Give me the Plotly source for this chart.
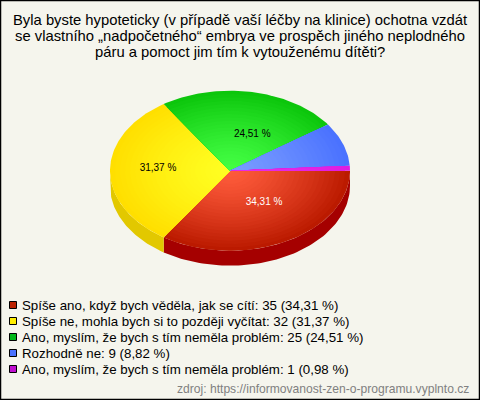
import numpy as np
import plotly.graph_objects as go

title_lines = ["Byla byste hypoteticky (v případě vaší léčby na klinice) ochotna vzdát",
               "se vlastního „nadpočetného“ embrya ve prospěch jiného neplodného",
               "páru a pomoct jim tím k vytouženému dítěti?"]
categories = ["Spíše ano, když bych věděla, jak se cítí",
              "Spíše ne, mohla bych si to později vyčítat",
              "Ano, myslím, že bych s tím neměla problém",
              "Rozhodně ne",
              "Ano, myslím, že bych s tím neměla problém"]
counts = [35, 32, 25, 9, 1]
edge_colors = ["#bb1a00", "#ffdf00", "#0cc60c", "#4a72ff", "#e01ce0"]
center_colors = ["#ff5c3c", "#ffff22", "#44ff44", "#7a9cff", "#e830e8"]
side_colors = ["#a50000", "#e2c800", "#0a9a0a", "#3a58c8", "#a000a0"]
swatch_colors = ["#bb2200", "#ffee00", "#00b818", "#4a72ff", "#c010d0"]
source = "zdroj: https://informovanost-zen-o-programu.vyplnto.cz"

BG = "#f5f5ed"
CX, CY, RX, RY, DEPTH = 230, 170.7, 120, 80, 15
LAYERS = 24
FONT = "Liberation Sans, Arial, sans-serif"


def hex2rgb(h):
    return np.array([int(h[i:i + 2], 16) for i in (1, 3, 5)], float)


def lerp(a, b, t):
    c = hex2rgb(a) * (1 - t) + hex2rgb(b) * t
    return "rgb(%d,%d,%d)" % tuple(c.round())


total = sum(counts)
shares = [c / total for c in counts]
bounds = np.concatenate([[0], np.cumsum(shares)]) * 2 * np.pi

fig = go.Figure()

# side wall, front half only
for i in range(len(counts)):
    a0, a1 = bounds[i], min(bounds[i + 1], np.pi)
    if a0 >= np.pi:
        continue
    t = np.linspace(a0, a1, 80)
    x = CX + RX * np.cos(t)
    y = CY + RY * np.sin(t)
    fig.add_trace(go.Scatter(
        x=np.concatenate([x, x[::-1]]),
        y=np.concatenate([y, y[::-1] + DEPTH]),
        fill="toself", fillcolor=side_colors[i], mode="lines",
        line=dict(width=0), hoverinfo="skip", showlegend=False))

# top face with radial shading
for i in range(len(counts)):
    t = np.linspace(bounds[i], bounds[i + 1], max(6, int(300 * shares[i])))
    for k in range(LAYERS):
        s = 1 - k / LAYERS
        x = np.concatenate([[CX], CX + s * RX * np.cos(t), [CX]])
        y = np.concatenate([[CY], CY + s * RY * np.sin(t), [CY]])
        col = lerp(center_colors[i], edge_colors[i], s ** 1.3)
        fig.add_trace(go.Scatter(
            x=x, y=y, fill="toself", fillcolor=col, mode="lines",
            line=dict(width=0), hoverinfo="skip", showlegend=False,
            name=categories[i]))

# value labels inside the three big slices
nudge = [(0, 0), (0, -2), (9, -1)]
label_colors = ["white", "black", "black"]
for i in range(3):
    mid = (bounds[i] + bounds[i + 1]) / 2
    fig.add_trace(go.Scatter(
        x=[CX + 0.6 * RX * np.cos(mid) + nudge[i][0]],
        y=[CY + 0.45 * RY * np.sin(mid) + nudge[i][1]],
        mode="text", text=[f"{shares[i] * 100:.2f} %".replace(".", ",")],
        textfont=dict(family=FONT, size=10, color=label_colors[i]),
        textposition="middle center", hoverinfo="skip", showlegend=False))

annotations = []
for j, line in enumerate(title_lines):
    annotations.append(dict(x=239.5, y=20 + j * 16, text=line, showarrow=False,
                            xanchor="center", yanchor="middle",
                            font=dict(family=FONT, size=14.8, color="black")))
shapes = [dict(type="rect", x0=0.5, y0=0.5, x1=479.5, y1=399.5,
               line=dict(color="black", width=1.5), fillcolor="rgba(0,0,0,0)", layer="above")]
for i, (cat, n) in enumerate(zip(categories, counts)):
    yy = 305 + i * 16
    shapes.append(dict(type="rect", x0=9.5, x1=16.5, y0=yy - 3.5, y1=yy + 3.5,
                       fillcolor=swatch_colors[i], line=dict(color="black", width=1)))
    annotations.append(dict(x=20, y=yy, text=f"{cat}: {n} ({shares[i] * 100:.2f} %)".replace(".", ","),
                            showarrow=False, xanchor="left", yanchor="middle",
                            font=dict(family=FONT, size=13.3, color="black")))
annotations.append(dict(x=471, y=389, text=source, showarrow=False, xanchor="right",
                        yanchor="middle", font=dict(family=FONT, size=12.1, color="#808080")))

fig.update_layout(
    width=480, height=400, margin=dict(l=0, r=0, t=0, b=0),
    paper_bgcolor=BG, plot_bgcolor=BG, showlegend=False,
    xaxis=dict(range=[0, 480], visible=False, fixedrange=True),
    yaxis=dict(range=[400, 0], visible=False, fixedrange=True),
    annotations=annotations, shapes=shapes)
fig.write_html("out.html", config=dict(displayModeBar=False),
               post_script="document.body.style.margin='0';document.body.style.overflow='hidden';")
